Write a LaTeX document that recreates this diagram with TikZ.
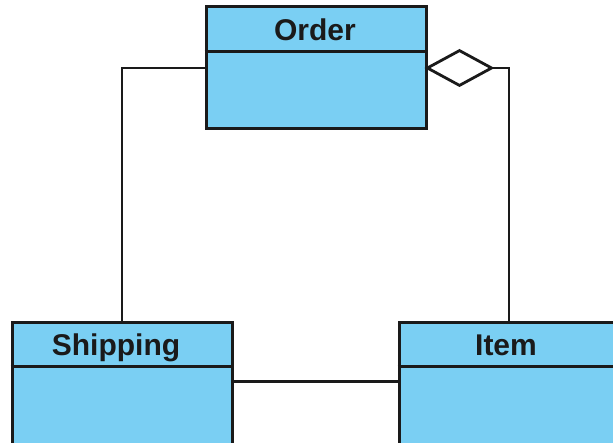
\documentclass[tikz,border=0pt]{standalone}
\usepackage{fontspec}
\setmainfont{Liberation Sans}
\usetikzlibrary{arrows.meta,calc}
\definecolor{clsfill}{HTML}{7ACFF3}
\definecolor{clsline}{HTML}{1A1A1A}
\tikzset{
  cls/.style={draw=clsline, fill=clsfill, line width=3pt, minimum width=220pt, inner sep=0pt},
  clsname/.style={font=\fontsize{30}{32}\selectfont\bfseries, text=clsline, inner sep=0pt, anchor=base},
  conn/.style={draw=clsline, line width=2.8pt},
  agg/.style={-{Diamond[open,fill=white,length=70pt,width=38pt,line width=2.8pt]}, shorten >=-3pt}
}
\begin{document}
\begin{tikzpicture}[x=1pt,y=1pt]
\useasboundingbox (0,0) rectangle (613,442);
\clip (0,0) rectangle (613,442);
% class boxes
\node[cls, minimum height=122pt] (order) at (316,374) {};
\node[cls, minimum height=150pt] (shipping) at (122,44) {};
\node[cls, minimum height=150pt] (item) at (509,44) {};
% dividers
\draw[conn] ($(order.north west)+(0,-46)$) -- ($(order.north east)+(0,-46)$);
\draw[conn] ($(shipping.north west)+(0,-45)$) -- ($(shipping.north east)+(0,-45)$);
\draw[conn] ($(item.north west)+(0,-45)$) -- ($(item.north east)+(0,-45)$);
% names
\node[clsname] (ordername) at ($(order.north)+(-1,-35)$) {Order};
\node[clsname] (shippingname) at ($(shipping.north)+(-6,-34)$) {Shipping};
\node[clsname] (itemname) at ($(item.north)+(-3,-34)$) {Item};
% connectors
\draw[conn] (order.west) -| (shipping.north);
\draw[conn, agg] (item.north) |- (order.east);
\draw[conn] ($(shipping.north east)+(0,-60)$) -- ($(item.north west)+(0,-60)$);
\end{tikzpicture}
\end{document}
